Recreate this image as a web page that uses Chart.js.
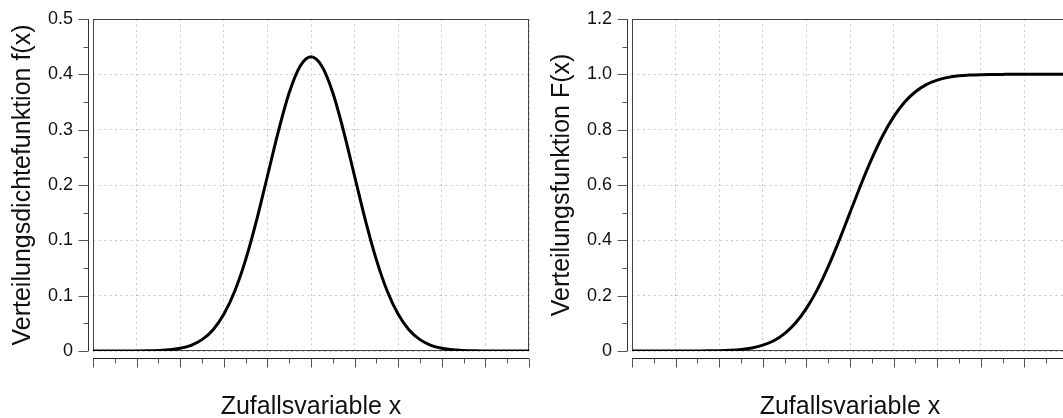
<!DOCTYPE html>
<html><head><meta charset="utf-8">
<script src="https://cdn.jsdelivr.net/npm/chart.js@4.4.1/dist/chart.umd.min.js"></script>
<style>
html,body{margin:0;padding:0;background:#fff;overflow:hidden;width:1063px;height:418px;}
#c1{position:absolute;left:0;top:0;}
#c2{position:absolute;left:539px;top:0;}
</style></head><body>
<canvas id="c1" width="540" height="418"></canvas>
<canvas id="c2" width="540" height="418"></canvas>
<script>
// ---- data ----
const xValues = [0,0.25,0.5,0.75,1,1.25,1.5,1.75,2,2.25,2.5,2.75,3,3.25,3.5,3.75,4,4.25,4.5,4.75,5,
  5.25,5.5,5.75,6,6.25,6.5,6.75,7,7.25,7.5,7.75,8,8.25,8.5,8.75,9,9.25,9.5,9.75,10];
const densityValues = [0,0,0,0,0.0001,0.0003,0.0008,0.0018,0.0041,0.0086,0.0171,0.0317,0.0552,0.0899,0.1372,0.1963,0.2632,0.3305,0.3889,0.4288,0.443,
  0.4288,0.3889,0.3305,0.2632,0.1963,0.1372,0.0899,0.0552,0.0317,0.0171,0.0086,0.0041,0.0018,0.0008,0.0003,0.0001,0,0,0,0];
const cdfValues = [0,0,0,0,0,0,0.0002,0.0005,0.0011,0.0025,0.0054,0.011,0.021,0.037,0.063,0.101,0.154,0.222,0.305,0.399,0.5,
  0.601,0.695,0.778,0.846,0.899,0.937,0.963,0.979,0.989,0.9946,0.9975,0.9989,0.9995,0.9998,1,1,1,1,1,1];
const xTickValues = [0,0.5,1,1.5,2,2.5,3,3.5,4,4.5,5,5.5,6,6.5,7,7.5,8,8.5,9,9.5,10];
const densityYLabels = ['0','0.1','0.1','0.2','0.3','0.4','0.5'];
const densityYMax = 0.5;
const cdfYLabels = ['0','0.2','0.4','0.6','0.8','1.0','1.2'];
const cdfYMax = 1.2;
const xTitle = 'Zufallsvariable x';
const densityTitle = 'Verteilungsdichtefunktion f(x)';
const cdfTitle = 'Verteilungsfunktion F(x)';

// ---- drawing ----
const FONT = "'Liberation Sans', Arial, Helvetica, sans-serif";

const framePlugin = {
  id: 'frame',
  beforeDatasetsDraw(chart) {
    const {ctx, chartArea: a} = chart;
    ctx.save();
    ctx.strokeStyle = '#444';
    ctx.lineWidth = 1;
    const l = Math.round(a.left) + 0.5, t = Math.round(a.top) + 0.5;
    const r = Math.round(a.right) - 0.5, b = Math.round(a.bottom) - 0.5;
    ctx.strokeRect(l, t, r - l, b - t);
    ctx.restore();
  },
  afterDraw(chart) {
    const {ctx, chartArea: a, scales: {x, y}} = chart;
    ctx.save();
    ctx.lineWidth = 1;
    // y axis line + ticks
    const ax = Math.round(a.left) - 5 + 0.5;
    ctx.strokeStyle = '#333';
    ctx.beginPath();
    ctx.moveTo(ax, y.getPixelForValue(y.max));
    ctx.lineTo(ax, y.getPixelForValue(y.min));
    ctx.stroke();
    ctx.strokeStyle = '#555';
    y.ticks.forEach((t, i) => {
      const p = Math.round(y.getPixelForValue(t.value)) + 0.5;
      const len = i % 2 === 0 ? 10 : 5;
      ctx.beginPath(); ctx.moveTo(ax - len, p); ctx.lineTo(ax, p); ctx.stroke();
    });
    // x axis line + ticks
    const ay = Math.round(a.bottom) + 7 + 0.5;
    ctx.strokeStyle = '#222';
    ctx.beginPath();
    ctx.moveTo(x.getPixelForValue(x.min), ay);
    ctx.lineTo(x.getPixelForValue(x.max), ay);
    ctx.stroke();
    ctx.strokeStyle = '#555';
    x.ticks.forEach((t, i) => {
      const p = Math.round(x.getPixelForValue(t.value)) + 0.5;
      const len = i % 2 === 0 ? 9 : 5;
      ctx.beginPath(); ctx.moveTo(p, ay); ctx.lineTo(p, ay + len); ctx.stroke();
    });
    ctx.restore();
  }
};

function makeChart(id, values, yMax, yLabels, yTitle) {
  const yTicks = [];
  for (let i = 0; i <= 12; i++) yTicks.push(i * yMax / 12);
  return new Chart(document.getElementById(id), {
    type: 'line',
    data: {
      datasets: [{
        data: xValues.map((xv, i) => ({x: xv, y: values[i]})),
        borderColor: '#000',
        borderWidth: 3,
        pointRadius: 0,
        cubicInterpolationMode: 'monotone',
        fill: false
      }]
    },
    options: {
      responsive: false,
      devicePixelRatio: 1,
      animation: false,
      events: [],
      layout: {padding: {top: 19, right: 11, bottom: 0, left: 0}},
      plugins: {legend: {display: false}, tooltip: {enabled: false}},
      scales: {
        x: {
          type: 'linear', min: 0, max: 10,
          afterBuildTicks: s => { s.ticks = xTickValues.map(v => ({value: v})); },
          afterFit: s => { s.height = 67; s.paddingLeft = 0; s.paddingRight = 0; },
          ticks: {display: false, autoSkip: false},
          grid: {
            drawTicks: false,
            lineWidth: 1,
            color: c => (c.index % 2 === 0 ? '#c8c8c8' : 'rgba(0,0,0,0)')
          },
          border: {display: false, dash: [2, 3.5]},
          title: {display: true, text: xTitle, color: '#111',
            font: {family: FONT, size: 25, lineHeight: 0.88}, padding: 0}
        },
        y: {
          type: 'linear', min: 0, max: yMax,
          afterBuildTicks: s => { s.ticks = yTicks.map(v => ({value: v})); },
          afterFit: s => { s.width = 93; s.paddingTop = 0; s.paddingBottom = 0; },
          ticks: {
            autoSkip: false, padding: 20, color: '#111',
            font: {family: FONT, size: 18},
            callback: (v, i) => (i % 2 === 0 ? yLabels[i / 2] : '')
          },
          grid: {
            drawTicks: false,
            lineWidth: 1,
            color: c => (c.index % 2 === 0 ? '#c8c8c8' : 'rgba(0,0,0,0)')
          },
          border: {display: false, dash: [2, 3.5]},
          title: {display: true, text: yTitle, color: '#111',
            font: {family: FONT, size: 25, lineHeight: 1.2}, padding: {top: 8, bottom: 0}}
        }
      }
    },
    plugins: [framePlugin]
  });
}

makeChart('c1', densityValues, densityYMax, densityYLabels, densityTitle);
makeChart('c2', cdfValues, cdfYMax, cdfYLabels, cdfTitle);
</script>
</body></html>
